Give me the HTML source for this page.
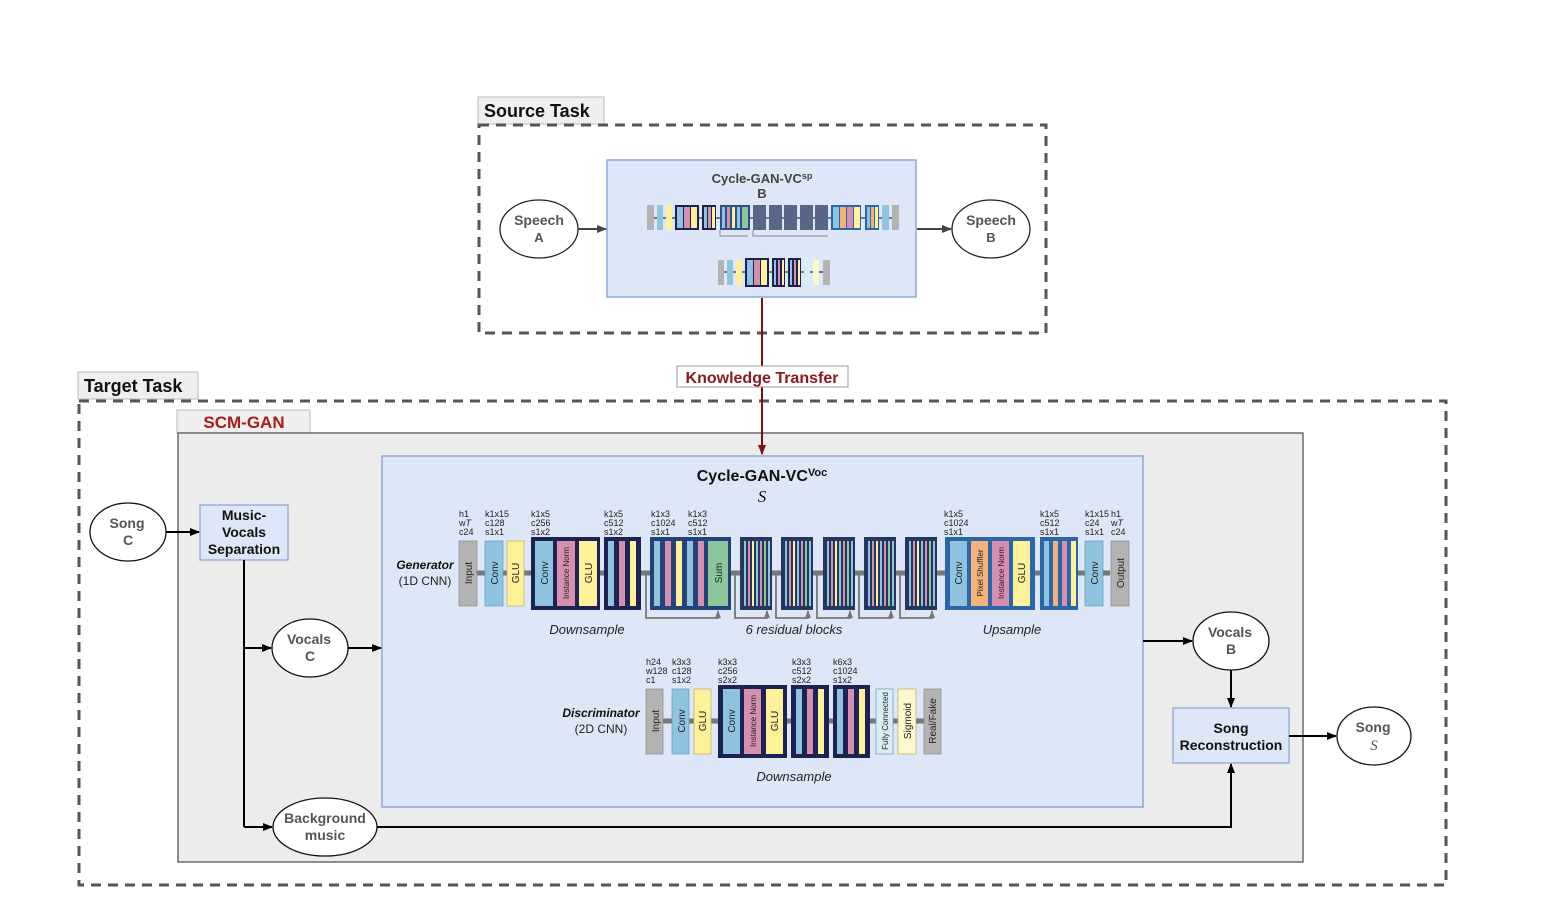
<!DOCTYPE html>
<html><head><meta charset="utf-8"><style>
html,body{margin:0;padding:0;background:#fff}
svg{display:block;font-family:"Liberation Sans",sans-serif}
.t9{font-size:9px;fill:#222}
.b{font-weight:bold}
.v{font-size:10px;fill:#222}
</style></head><body>
<svg width="1554" height="906" viewBox="0 0 1554 906" xmlns="http://www.w3.org/2000/svg">
<defs>
<marker id="ak" markerWidth="10" markerHeight="10" refX="9" refY="5" orient="auto" markerUnits="userSpaceOnUse"><path d="M0,1 L10,5 L0,9 z" fill="#000"/></marker>
<marker id="ag" markerWidth="10" markerHeight="10" refX="9" refY="5" orient="auto" markerUnits="userSpaceOnUse"><path d="M0,1 L10,5 L0,9 z" fill="#444"/></marker>
<marker id="ar" markerWidth="10" markerHeight="10" refX="9" refY="5" orient="auto" markerUnits="userSpaceOnUse"><path d="M0,1 L10,5 L0,9 z" fill="#7a1010"/></marker>
<marker id="as" markerWidth="8" markerHeight="8" refX="7" refY="4" orient="auto" markerUnits="userSpaceOnUse"><path d="M0,1 L8,4 L0,7 z" fill="#777"/></marker>
</defs>

<!-- Source task -->
<rect x="478" y="97" width="126" height="27" fill="#efefef" stroke="#bbb"/>
<text x="484" y="117" font-size="18" class="b" fill="#111">Source Task</text>
<rect x="479" y="125" width="567" height="208" fill="none" stroke="#555" stroke-width="3" stroke-dasharray="10,7"/>
<rect x="607" y="160" width="309" height="137" fill="#dde7f7" stroke="#8fa6d8" stroke-width="1.5"/>
<text x="762" y="183" font-size="13" class="b" fill="#444" text-anchor="middle">Cycle-GAN-VC<tspan font-size="9" dy="-4">sp</tspan></text>
<text x="762" y="198" font-size="13" class="b" fill="#444" text-anchor="middle">B</text>
<!-- mini generator -->
<line x1="648" y1="218" x2="898" y2="218" stroke="#777" stroke-width="2"/>
<rect x="647" y="205" width="7" height="25" fill="#b3b3b3"/>
<rect x="657" y="205" width="6" height="25" fill="#8ec4e0"/>
<rect x="666" y="205" width="6" height="25" fill="#fef19a"/>
<rect x="675" y="205" width="24" height="25" fill="#1c2353"/>
<rect x="677" y="207" width="6" height="21" fill="#8ec4e0"/><rect x="684" y="207" width="6" height="21" fill="#d78fb0"/><rect x="691" y="207" width="6" height="21" fill="#fef19a"/>
<rect x="702" y="205" width="14" height="25" fill="#1c2353"/>
<rect x="704" y="207" width="3" height="21" fill="#8ec4e0"/><rect x="708" y="207" width="3" height="21" fill="#d78fb0"/><rect x="712" y="207" width="3" height="21" fill="#fef19a"/>
<rect x="720" y="205" width="30" height="25" fill="#2d4f85"/>
<rect x="722" y="207" width="3" height="21" fill="#8ec4e0"/><rect x="727" y="207" width="3" height="21" fill="#d78fb0"/><rect x="732" y="207" width="3" height="21" fill="#fef19a"/><rect x="737" y="207" width="3" height="21" fill="#8ec4e0"/><rect x="742" y="207" width="6" height="21" fill="#8cc69a"/>
<rect x="753" y="205" width="13" height="25" fill="#5a6685"/><rect x="769" y="205" width="13" height="25" fill="#5a6685"/><rect x="784" y="205" width="13" height="25" fill="#5a6685"/><rect x="800" y="205" width="13" height="25" fill="#5a6685"/><rect x="815" y="205" width="13" height="25" fill="#5a6685"/>
<rect x="831" y="205" width="30" height="25" fill="#2d66a8"/>
<rect x="833" y="207" width="6" height="21" fill="#8ec4e0"/><rect x="840" y="207" width="6" height="21" fill="#f2b27a"/><rect x="847" y="207" width="6" height="21" fill="#d78fb0"/><rect x="854" y="207" width="6" height="21" fill="#fef19a"/>
<rect x="865" y="205" width="14" height="25" fill="#2d66a8"/>
<rect x="867" y="207" width="3" height="21" fill="#8ec4e0"/><rect x="871" y="207" width="3" height="21" fill="#f2b27a"/><rect x="875" y="207" width="3" height="21" fill="#fef19a"/>
<rect x="882" y="205" width="7" height="25" fill="#8ec4e0"/>
<rect x="892" y="205" width="7" height="25" fill="#b3b3b3"/>
<path d="M720,230 V236 H748 M753,230 V236 H828" fill="none" stroke="#888" stroke-width="1"/>
<!-- mini discriminator -->
<line x1="718" y1="272" x2="830" y2="272" stroke="#777" stroke-width="2"/>
<rect x="718" y="260" width="6" height="25" fill="#b3b3b3"/>
<rect x="727" y="260" width="6" height="25" fill="#8ec4e0"/>
<rect x="736" y="260" width="6" height="25" fill="#fef19a"/>
<rect x="745" y="258" width="24" height="29" fill="#1c2353"/>
<rect x="747" y="260" width="6" height="25" fill="#8ec4e0"/><rect x="754" y="260" width="6" height="25" fill="#d78fb0"/><rect x="761" y="260" width="6" height="25" fill="#fef19a"/>
<rect x="772" y="258" width="13" height="29" fill="#1c2353"/><rect x="788" y="258" width="13" height="29" fill="#1c2353"/>
<rect x="774" y="260" width="2" height="25" fill="#8ec4e0"/><rect x="778" y="260" width="2" height="25" fill="#d78fb0"/><rect x="782" y="260" width="2" height="25" fill="#fef19a"/>
<rect x="790" y="260" width="2" height="25" fill="#8ec4e0"/><rect x="794" y="260" width="2" height="25" fill="#d78fb0"/><rect x="798" y="260" width="2" height="25" fill="#fef19a"/>
<rect x="804" y="260" width="6" height="25" fill="#d8eef5"/><rect x="813" y="260" width="6" height="25" fill="#fdf8cc"/><rect x="823" y="260" width="7" height="25" fill="#b3b3b3"/>

<ellipse cx="539" cy="229" rx="39" ry="29" fill="#fff" stroke="#222" stroke-width="1.3"/>
<text x="539" y="225" font-size="14" class="b" fill="#555" text-anchor="middle">Speech</text>
<text x="539" y="242" font-size="13" class="b" fill="#555" text-anchor="middle">A</text>
<ellipse cx="991" cy="229" rx="39" ry="29" fill="#fff" stroke="#222" stroke-width="1.3"/>
<text x="991" y="225" font-size="14" class="b" fill="#555" text-anchor="middle">Speech</text>
<text x="991" y="242" font-size="13" class="b" fill="#555" text-anchor="middle">B</text>
<line x1="578" y1="229" x2="606" y2="229" stroke="#444" stroke-width="2" marker-end="url(#ag)"/>
<line x1="917" y1="229" x2="951" y2="229" stroke="#444" stroke-width="2" marker-end="url(#ag)"/>

<!-- target task -->
<rect x="78" y="372" width="120" height="27" fill="#efefef" stroke="#bbb"/>
<text x="84" y="392" font-size="18" class="b" fill="#111">Target Task</text>
<rect x="79" y="401" width="1367" height="484" fill="none" stroke="#555" stroke-width="3" stroke-dasharray="10,7"/>
<rect x="177" y="410" width="133" height="23" fill="#efefef" stroke="#bbb"/>
<text x="244" y="428" font-size="17" class="b" fill="#a51d1d" text-anchor="middle">SCM-GAN</text>
<rect x="178" y="433" width="1125" height="429" fill="#ececec" stroke="#555" stroke-width="1.3"/>
<rect x="382" y="456" width="761" height="351" fill="#dde7f7" stroke="#8fa6d8" stroke-width="1.5"/>

<!-- knowledge transfer -->
<line x1="762" y1="298" x2="762" y2="454" stroke="#7a1010" stroke-width="2" marker-end="url(#ar)"/>
<rect x="677" y="366" width="171" height="21" fill="#fff" stroke="#999"/>
<text x="762" y="383" font-size="16" class="b" fill="#8b1a1a" text-anchor="middle">Knowledge Transfer</text>

<text x="762" y="481" font-size="16" class="b" fill="#111" text-anchor="middle">Cycle-GAN-VC<tspan font-size="11" dy="-5">Voc</tspan></text>
<text x="762" y="502" font-size="17" font-style="italic" fill="#111" text-anchor="middle" font-family="Liberation Serif,serif">S</text>

<!-- Generator -->
<text x="425" y="569" font-size="12" class="b" font-style="italic" fill="#111" text-anchor="middle">Generator</text>
<text x="425" y="585" font-size="12" fill="#222" text-anchor="middle">(1D CNN)</text>
<line x1="477" y1="573" x2="1100" y2="573" stroke="#777" stroke-width="5"/>
<line x1="1100" y1="573" x2="1110" y2="573" stroke="#777" stroke-width="5" marker-end="url(#as)"/>
<g class="t9">
<text x="459" y="517">h1</text><text x="459" y="526">w<tspan font-style="italic">T</tspan></text><text x="459" y="535">c24</text>
<text x="485" y="517">k1x15</text><text x="485" y="526">c128</text><text x="485" y="535">s1x1</text>
<text x="531" y="517">k1x5</text><text x="531" y="526">c256</text><text x="531" y="535">s1x2</text>
<text x="604" y="517">k1x5</text><text x="604" y="526">c512</text><text x="604" y="535">s1x2</text>
<text x="651" y="517">k1x3</text><text x="651" y="526">c1024</text><text x="651" y="535">s1x1</text>
<text x="688" y="517">k1x3</text><text x="688" y="526">c512</text><text x="688" y="535">s1x1</text>
<text x="944" y="517">k1x5</text><text x="944" y="526">c1024</text><text x="944" y="535">s1x1</text>
<text x="1040" y="517">k1x5</text><text x="1040" y="526">c512</text><text x="1040" y="535">s1x1</text>
<text x="1085" y="517">k1x15</text><text x="1085" y="526">c24</text><text x="1085" y="535">s1x1</text>
<text x="1111" y="517">h1</text><text x="1111" y="526">w<tspan font-style="italic">T</tspan></text><text x="1111" y="535">c24</text>
</g>
<rect x="459" y="541" width="18" height="65" fill="#b3b3b3" stroke="#888" stroke-width=".7"/>
<rect x="485" y="541" width="18" height="65" fill="#8ec4e0" stroke="#6a9ab8" stroke-width=".7"/>
<rect x="507" y="541" width="17" height="65" fill="#fef19a" stroke="#b8ad60" stroke-width=".7"/>
<rect x="531" y="537" width="69" height="73" fill="#1c2353"/>
<rect x="535" y="541" width="18" height="65" fill="#8ec4e0"/><rect x="557" y="541" width="18" height="65" fill="#d78fb0"/><rect x="579" y="541" width="18" height="65" fill="#fef19a"/>
<rect x="604" y="537" width="37" height="73" fill="#1c2353"/>
<rect x="608" y="541" width="6" height="65" fill="#8ec4e0"/><rect x="619" y="541" width="6" height="65" fill="#d78fb0"/><rect x="630" y="541" width="6" height="65" fill="#fef19a"/>
<rect x="650" y="537" width="81" height="73" fill="#23427a"/>
<rect x="654" y="541" width="6" height="65" fill="#8ec4e0"/><rect x="665" y="541" width="6" height="65" fill="#d78fb0"/><rect x="676" y="541" width="6" height="65" fill="#fef19a"/><rect x="687" y="541" width="6" height="65" fill="#8ec4e0"/><rect x="698" y="541" width="6" height="65" fill="#d78fb0"/>
<rect x="708" y="541" width="20" height="65" fill="#8cc69a"/>
<!-- residual blocks -->
<g>
<rect x="740" y="537" width="32" height="73" fill="#23375f"/>
<rect x="744" y="541" width="2" height="65" fill="#8ec4e0"/><rect x="748" y="541" width="2" height="65" fill="#d78fb0"/><rect x="752" y="541" width="2" height="65" fill="#fef19a"/><rect x="756" y="541" width="2" height="65" fill="#8ec4e0"/><rect x="760" y="541" width="2" height="65" fill="#d78fb0"/><rect x="764" y="541" width="2" height="65" fill="#8cc69a"/><rect x="768" y="541" width="2" height="65" fill="#8ec4e0"/>
</g>
<g transform="translate(41,0)"><rect x="740" y="537" width="32" height="73" fill="#23375f"/><rect x="744" y="541" width="2" height="65" fill="#8ec4e0"/><rect x="748" y="541" width="2" height="65" fill="#d78fb0"/><rect x="752" y="541" width="2" height="65" fill="#fef19a"/><rect x="756" y="541" width="2" height="65" fill="#8ec4e0"/><rect x="760" y="541" width="2" height="65" fill="#d78fb0"/><rect x="764" y="541" width="2" height="65" fill="#8cc69a"/><rect x="768" y="541" width="2" height="65" fill="#8ec4e0"/></g>
<g transform="translate(83,0)"><rect x="740" y="537" width="32" height="73" fill="#23375f"/><rect x="744" y="541" width="2" height="65" fill="#8ec4e0"/><rect x="748" y="541" width="2" height="65" fill="#d78fb0"/><rect x="752" y="541" width="2" height="65" fill="#fef19a"/><rect x="756" y="541" width="2" height="65" fill="#8ec4e0"/><rect x="760" y="541" width="2" height="65" fill="#d78fb0"/><rect x="764" y="541" width="2" height="65" fill="#8cc69a"/><rect x="768" y="541" width="2" height="65" fill="#8ec4e0"/></g>
<g transform="translate(124,0)"><rect x="740" y="537" width="32" height="73" fill="#23375f"/><rect x="744" y="541" width="2" height="65" fill="#8ec4e0"/><rect x="748" y="541" width="2" height="65" fill="#d78fb0"/><rect x="752" y="541" width="2" height="65" fill="#fef19a"/><rect x="756" y="541" width="2" height="65" fill="#8ec4e0"/><rect x="760" y="541" width="2" height="65" fill="#d78fb0"/><rect x="764" y="541" width="2" height="65" fill="#8cc69a"/><rect x="768" y="541" width="2" height="65" fill="#8ec4e0"/></g>
<g transform="translate(165,0)"><rect x="740" y="537" width="32" height="73" fill="#23375f"/><rect x="744" y="541" width="2" height="65" fill="#8ec4e0"/><rect x="748" y="541" width="2" height="65" fill="#d78fb0"/><rect x="752" y="541" width="2" height="65" fill="#fef19a"/><rect x="756" y="541" width="2" height="65" fill="#8ec4e0"/><rect x="760" y="541" width="2" height="65" fill="#d78fb0"/><rect x="764" y="541" width="2" height="65" fill="#8cc69a"/><rect x="768" y="541" width="2" height="65" fill="#8ec4e0"/></g>
<!-- skip connections -->
<g fill="none" stroke="#777" stroke-width="1.8">
<path d="M646,573 V618 H718 V611" marker-end="url(#as)"/>
<path d="M735,573 V618 H767 V611" marker-end="url(#as)"/>
<path d="M776,573 V618 H808 V611" marker-end="url(#as)"/>
<path d="M817,573 V618 H850 V611" marker-end="url(#as)"/>
<path d="M859,573 V618 H891 V611" marker-end="url(#as)"/>
<path d="M900,573 V618 H932 V611" marker-end="url(#as)"/>
</g>
<!-- upsample -->
<rect x="945" y="537" width="90" height="73" fill="#2d66a8"/>
<rect x="950" y="541" width="17" height="65" fill="#8ec4e0"/><rect x="971" y="541" width="17" height="65" fill="#f2b27a"/><rect x="992" y="541" width="17" height="65" fill="#d78fb0"/><rect x="1013" y="541" width="17" height="65" fill="#fef19a"/>
<rect x="1040" y="537" width="38" height="73" fill="#2d66a8"/>
<rect x="1044" y="541" width="5" height="65" fill="#8ec4e0"/><rect x="1053" y="541" width="5" height="65" fill="#f2b27a"/><rect x="1062" y="541" width="5" height="65" fill="#d78fb0"/><rect x="1071" y="541" width="5" height="65" fill="#fef19a"/>
<rect x="1085" y="541" width="18" height="65" fill="#8ec4e0" stroke="#6a9ab8" stroke-width=".7"/>
<rect x="1111" y="541" width="18" height="65" fill="#b3b3b3" stroke="#888" stroke-width=".7"/>
<g class="v">
<text transform="translate(472,573) rotate(-90)" text-anchor="middle">Input</text>
<text transform="translate(498,573) rotate(-90)" text-anchor="middle">Conv</text>
<text transform="translate(519,573) rotate(-90)" text-anchor="middle">GLU</text>
<text transform="translate(548,573) rotate(-90)" text-anchor="middle">Conv</text>
<text transform="translate(569,573) rotate(-90)" text-anchor="middle" font-size="8">Instance Norm</text>
<text transform="translate(592,573) rotate(-90)" text-anchor="middle">GLU</text>
<text transform="translate(722,573) rotate(-90)" text-anchor="middle">Sum</text>
<text transform="translate(962,573) rotate(-90)" text-anchor="middle">Conv</text>
<text transform="translate(983,573) rotate(-90)" text-anchor="middle" font-size="8">Pixel Shuffler</text>
<text transform="translate(1004,573) rotate(-90)" text-anchor="middle" font-size="8">Instance Norm</text>
<text transform="translate(1025,573) rotate(-90)" text-anchor="middle">GLU</text>
<text transform="translate(1098,573) rotate(-90)" text-anchor="middle">Conv</text>
<text transform="translate(1124,573) rotate(-90)" text-anchor="middle">Output</text>
</g>
<text x="587" y="634" font-size="13" font-style="italic" fill="#222" text-anchor="middle">Downsample</text>
<text x="794" y="634" font-size="13" font-style="italic" fill="#222" text-anchor="middle">6 residual blocks</text>
<text x="1012" y="634" font-size="13" font-style="italic" fill="#222" text-anchor="middle">Upsample</text>

<!-- Discriminator -->
<text x="601" y="717" font-size="12" class="b" font-style="italic" fill="#111" text-anchor="middle">Discriminator</text>
<text x="601" y="733" font-size="12" fill="#222" text-anchor="middle">(2D CNN)</text>
<line x1="663" y1="721" x2="915" y2="721" stroke="#777" stroke-width="5"/>
<line x1="915" y1="721" x2="924" y2="721" stroke="#777" stroke-width="5" marker-end="url(#as)"/>
<g class="t9">
<text x="646" y="665">h24</text><text x="646" y="674">w128</text><text x="646" y="683">c1</text>
<text x="672" y="665">k3x3</text><text x="672" y="674">c128</text><text x="672" y="683">s1x2</text>
<text x="718" y="665">k3x3</text><text x="718" y="674">c256</text><text x="718" y="683">s2x2</text>
<text x="792" y="665">k3x3</text><text x="792" y="674">c512</text><text x="792" y="683">s2x2</text>
<text x="833" y="665">k6x3</text><text x="833" y="674">c1024</text><text x="833" y="683">s1x2</text>
</g>
<rect x="646" y="689" width="17" height="65" fill="#b3b3b3" stroke="#888" stroke-width=".7"/>
<rect x="672" y="689" width="17" height="65" fill="#8ec4e0" stroke="#6a9ab8" stroke-width=".7"/>
<rect x="694" y="689" width="17" height="65" fill="#fef19a" stroke="#b8ad60" stroke-width=".7"/>
<rect x="718" y="685" width="69" height="73" fill="#1c2353"/>
<rect x="723" y="689" width="17" height="65" fill="#8ec4e0"/><rect x="744" y="689" width="17" height="65" fill="#d78fb0"/><rect x="766" y="689" width="17" height="65" fill="#fef19a"/>
<rect x="791" y="685" width="38" height="73" fill="#1c2353"/>
<rect x="796" y="689" width="6" height="65" fill="#8ec4e0"/><rect x="807" y="689" width="6" height="65" fill="#d78fb0"/><rect x="818" y="689" width="6" height="65" fill="#fef19a"/>
<rect x="833" y="685" width="37" height="73" fill="#1c2353"/>
<rect x="837" y="689" width="6" height="65" fill="#8ec4e0"/><rect x="848" y="689" width="6" height="65" fill="#d78fb0"/><rect x="859" y="689" width="6" height="65" fill="#fef19a"/>
<rect x="876" y="689" width="17" height="65" fill="#d8eef5" stroke="#6a9ab8" stroke-width=".7"/>
<rect x="898" y="689" width="18" height="65" fill="#fdf8cc" stroke="#b8ad60" stroke-width=".7"/>
<rect x="924" y="689" width="17" height="65" fill="#b3b3b3" stroke="#888" stroke-width=".7"/>
<g class="v">
<text transform="translate(659,721) rotate(-90)" text-anchor="middle">Input</text>
<text transform="translate(685,721) rotate(-90)" text-anchor="middle">Conv</text>
<text transform="translate(706,721) rotate(-90)" text-anchor="middle">GLU</text>
<text transform="translate(735,721) rotate(-90)" text-anchor="middle">Conv</text>
<text transform="translate(756,721) rotate(-90)" text-anchor="middle" font-size="8">Instance Norm</text>
<text transform="translate(778,721) rotate(-90)" text-anchor="middle">GLU</text>
<text transform="translate(888,721) rotate(-90)" text-anchor="middle" font-size="8">Fully Connected</text>
<text transform="translate(911,721) rotate(-90)" text-anchor="middle">Sigmoid</text>
<text transform="translate(936,721) rotate(-90)" text-anchor="middle">Real/Fake</text>
</g>
<text x="794" y="781" font-size="13" font-style="italic" fill="#222" text-anchor="middle">Downsample</text>

<!-- flow -->
<ellipse cx="128" cy="532" rx="38" ry="29" fill="#fff" stroke="#111" stroke-width="1.3"/>
<text x="127" y="528" font-size="14" class="b" fill="#555" text-anchor="middle">Song</text>
<text x="128" y="545" font-size="14" class="b" fill="#555" text-anchor="middle">C</text>
<line x1="166" y1="532" x2="199" y2="532" stroke="#000" stroke-width="2" marker-end="url(#ak)"/>
<rect x="200" y="505" width="88" height="55" fill="#dde7f7" stroke="#8fa6d8" stroke-width="1.3"/>
<text x="244" y="520" font-size="14" class="b" fill="#111" text-anchor="middle">Music-</text>
<text x="244" y="537" font-size="14" class="b" fill="#111" text-anchor="middle">Vocals</text>
<text x="244" y="554" font-size="14" class="b" fill="#111" text-anchor="middle">Separation</text>
<polyline points="244,560 244,827" fill="none" stroke="#000" stroke-width="2"/>
<line x1="244" y1="648" x2="271" y2="648" stroke="#000" stroke-width="2" marker-end="url(#ak)"/>
<line x1="244" y1="827" x2="272" y2="827" stroke="#000" stroke-width="2" marker-end="url(#ak)"/>
<ellipse cx="310" cy="648" rx="38" ry="29" fill="#fff" stroke="#111" stroke-width="1.3"/>
<text x="309" y="644" font-size="14" class="b" fill="#555" text-anchor="middle">Vocals</text>
<text x="310" y="661" font-size="14" class="b" fill="#555" text-anchor="middle">C</text>
<line x1="348" y1="648" x2="381" y2="648" stroke="#000" stroke-width="2" marker-end="url(#ak)"/>
<ellipse cx="325" cy="827" rx="52" ry="29" fill="#fff" stroke="#111" stroke-width="1.3"/>
<text x="325" y="823" font-size="14" class="b" fill="#555" text-anchor="middle">Background</text>
<text x="325" y="840" font-size="14" class="b" fill="#555" text-anchor="middle">music</text>
<polyline points="377,827 1231,827 1231,764" fill="none" stroke="#000" stroke-width="2" marker-end="url(#ak)"/>
<line x1="1143" y1="641" x2="1192" y2="641" stroke="#000" stroke-width="2" marker-end="url(#ak)"/>
<ellipse cx="1231" cy="641" rx="38" ry="29" fill="#fff" stroke="#111" stroke-width="1.3"/>
<text x="1230" y="637" font-size="14" class="b" fill="#555" text-anchor="middle">Vocals</text>
<text x="1231" y="654" font-size="14" class="b" fill="#555" text-anchor="middle">B</text>
<line x1="1231" y1="670" x2="1231" y2="707" stroke="#000" stroke-width="2" marker-end="url(#ak)"/>
<rect x="1173" y="708" width="116" height="55" fill="#dde7f7" stroke="#8fa6d8" stroke-width="1.3"/>
<text x="1231" y="733" font-size="14" class="b" fill="#111" text-anchor="middle">Song</text>
<text x="1231" y="750" font-size="14" class="b" fill="#111" text-anchor="middle">Reconstruction</text>
<line x1="1289" y1="736" x2="1336" y2="736" stroke="#000" stroke-width="2" marker-end="url(#ak)"/>
<ellipse cx="1374" cy="736" rx="37" ry="29" fill="#fff" stroke="#111" stroke-width="1.3"/>
<text x="1373" y="732" font-size="14" class="b" fill="#555" text-anchor="middle">Song</text>
<text x="1374" y="750" font-size="15" font-style="italic" fill="#555" text-anchor="middle" font-family="Liberation Serif,serif">S</text>
</svg>
</body></html>
